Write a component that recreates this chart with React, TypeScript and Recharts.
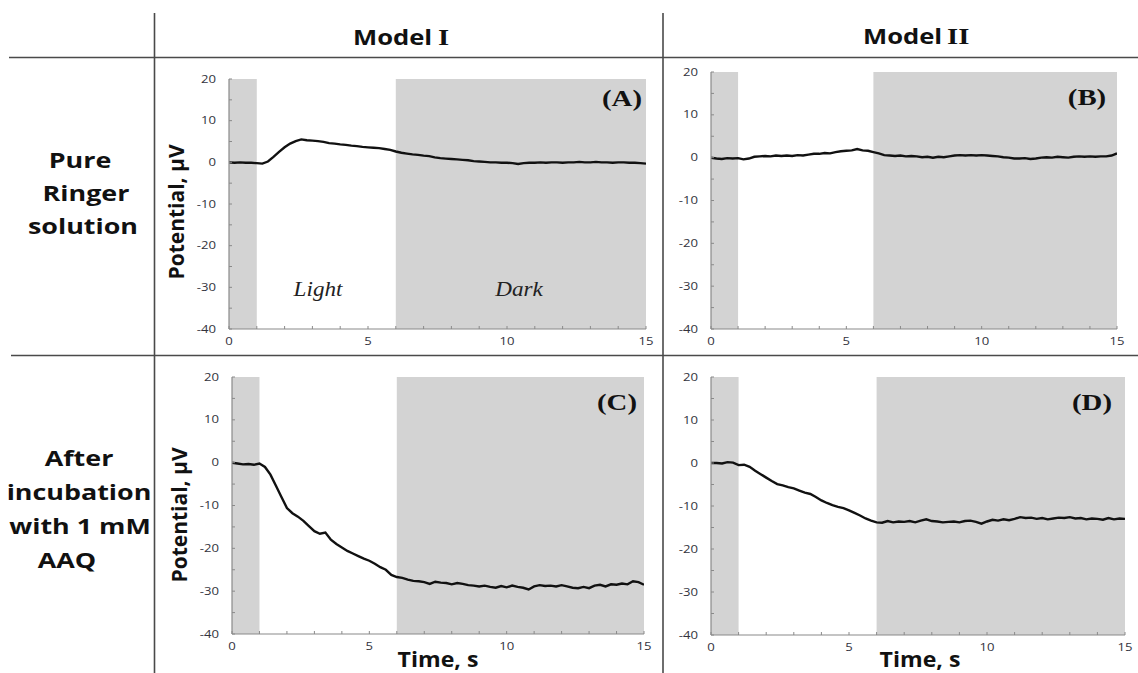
import React from 'react';
import { LineChart, Line, XAxis, YAxis, ReferenceArea } from 'recharts';

// ---------- data ----------
const timeS = [
  0.0, 0.2, 0.4, 0.6, 0.8, 1.0, 1.2, 1.4, 1.6, 1.8,
  2.0, 2.2, 2.4, 2.6, 2.8, 3.0, 3.2, 3.4, 3.6, 3.8,
  4.0, 4.2, 4.4, 4.6, 4.8, 5.0, 5.2, 5.4, 5.6, 5.8,
  6.0, 6.2, 6.4, 6.6, 6.8, 7.0, 7.2, 7.4, 7.6, 7.8,
  8.0, 8.2, 8.4, 8.6, 8.8, 9.0, 9.2, 9.4, 9.6, 9.8,
  10.0, 10.2, 10.4, 10.6, 10.8, 11.0, 11.2, 11.4, 11.6, 11.8,
  12.0, 12.2, 12.4, 12.6, 12.8, 13.0, 13.2, 13.4, 13.6, 13.8,
  14.0, 14.2, 14.4, 14.6, 14.8, 15.0,
];

// (A) Model I, pure Ringer solution
const seriesA = [
  0.0, -0.1, 0.0, -0.1, -0.1, -0.2, -0.3, 0.2, 1.3, 2.5,
  3.6, 4.5, 5.1, 5.5, 5.3, 5.2, 5.1, 4.9, 4.6, 4.5,
  4.3, 4.2, 4.0, 3.9, 3.7, 3.6, 3.5, 3.4, 3.2, 3.0,
  2.6, 2.3, 2.1, 1.9, 1.8, 1.6, 1.5, 1.2, 1.0, 0.9,
  0.8, 0.7, 0.6, 0.5, 0.3, 0.2, 0.1, 0.0, 0.0, -0.1,
  -0.1, -0.2, -0.4, -0.2, -0.1, -0.1, 0.0, -0.1, 0.0, 0.0,
  -0.1, 0.0, 0.0, 0.1, 0.0, 0.0, 0.1, 0.0, 0.0, -0.1,
  0.0, 0.0, -0.1, -0.1, -0.2, -0.3,
];

// (B) Model II, pure Ringer solution
const seriesB = [
  0.0, -0.2, -0.3, -0.1, -0.2, -0.1, -0.4, -0.2, 0.2, 0.3,
  0.4, 0.3, 0.5, 0.4, 0.5, 0.4, 0.6, 0.5, 0.7, 0.9,
  0.9, 1.1, 1.0, 1.3, 1.5, 1.6, 1.7, 2.0, 1.7, 1.6,
  1.3, 1.0, 0.6, 0.5, 0.4, 0.5, 0.3, 0.4, 0.3, 0.1,
  0.2, 0.0, 0.2, 0.1, 0.3, 0.5, 0.6, 0.5, 0.6, 0.5,
  0.6, 0.5, 0.4, 0.3, 0.1, 0.0, -0.2, -0.2, -0.1, -0.3,
  -0.2, 0.0, 0.1, 0.0, 0.2, 0.1, 0.0, 0.2, 0.3, 0.2,
  0.3, 0.2, 0.3, 0.3, 0.5, 1.0,
];

// (C) Model I, after incubation with 1 mM AAQ
const seriesC = [
  0.0, -0.2, -0.4, -0.3, -0.5, -0.2, -1.0, -2.8, -5.4, -8.0,
  -10.6, -11.8, -12.6, -13.6, -14.8, -16.0, -16.6, -16.3, -18.0, -19.0,
  -19.8, -20.6, -21.2, -21.8, -22.4, -22.9, -23.6, -24.4, -25.0, -26.2,
  -26.7, -26.9, -27.3, -27.6, -27.7, -27.9, -28.3, -27.8, -28.0, -28.1,
  -28.4, -28.1, -28.3, -28.6, -28.7, -28.9, -28.7, -29.0, -29.2, -28.8,
  -29.1, -28.7, -29.0, -29.2, -29.6, -28.9, -28.6, -28.8, -28.7, -28.9,
  -28.6, -28.9, -29.2, -29.3, -29.0, -29.3, -28.7, -28.5, -28.9, -28.4,
  -28.5, -28.2, -28.4, -27.7, -27.9, -28.5,
];

// (D) Model II, after incubation with 1 mM AAQ
const seriesD = [
  0.0, 0.0, -0.1, 0.2, 0.1, -0.5, -0.4, -0.9, -1.8, -2.6,
  -3.4, -4.2, -4.9, -5.2, -5.6, -5.9, -6.4, -6.9, -7.2, -7.9,
  -8.7, -9.3, -9.8, -10.2, -10.5, -11.0, -11.6, -12.2, -12.9, -13.4,
  -13.8, -13.9, -13.5, -13.8, -13.6, -13.7, -13.5, -13.8, -13.4, -13.1,
  -13.5, -13.6, -13.8, -13.7, -13.6, -13.8, -13.5, -13.4, -13.7, -14.1,
  -13.6, -13.2, -13.4, -13.1, -13.3, -13.0, -12.6, -12.8, -12.7, -13.0,
  -12.8, -13.1, -12.9, -12.7, -12.8, -12.6, -12.9, -12.8, -13.1, -12.9,
  -13.0, -13.2, -12.8, -13.1, -12.9, -13.0,
];

const xTicks = [0, 1, 2, 3, 4, 5, 6, 7, 8, 9, 10, 11, 12, 13, 14, 15];
const xLabelTicks = [0, 5, 10, 15];
const yTicks = [-40, -35, -30, -25, -20, -15, -10, -5, 0, 5, 10, 15, 20];
const yLabelTicks = [-40, -30, -20, -10, 0, 10, 20];
const darkPeriods = [[0, 1], [6, 15]];

const columnHeaders = ['I', 'II'];
const rowLabels = [
  ['Pure', 'Ringer', 'solution'],
  ['After', 'incubation', 'with 1 mM', 'AAQ'],
];
const panelLetters = ['(A)', '(B)', '(C)', '(D)'];
const yTitle = 'Potential, \u03bcV';
const xTitle = 'Time, s';

// ---------- helpers ----------
const SANS = '"Open Sans", "DejaVu Sans", sans-serif';
const SERIF = '"Liberation Serif", "Times New Roman", serif';
const TICK_COLOR = '#33333d';
const AXIS_COLOR = '#8a8a8a';

function SText({ x, y, sx = 1, size, family = SANS, weight = 700, anchor = 'middle', italic = false, fill = '#111', children }: any) {
  return (
    <text
      transform={`translate(${x},${y}) scale(${sx},1)`}
      x={0}
      y={0}
      fontSize={size}
      fontFamily={family}
      fontWeight={weight}
      fontStyle={italic ? 'italic' : 'normal'}
      textAnchor={anchor}
      fill={fill}
    >
      {children}
    </text>
  );
}

function XTick(props: any) {
  const { x, y, payload } = props;
  const v = payload.value;
  const showLabel = xLabelTicks.includes(v);
  return (
    <g>
      <line x1={x} x2={x} y1={y} y2={y - 3} stroke={AXIS_COLOR} strokeWidth={1} />
      {showLabel && (
        <text
          transform={`translate(${x},${y + 16}) scale(1.25,1)`}
          textAnchor="middle"
          fontSize={10.5}
          fontFamily={SANS}
          fill={TICK_COLOR}
        >
          {v}
        </text>
      )}
    </g>
  );
}

function YTick(props: any) {
  const { x, y, payload } = props;
  const v = payload.value;
  const showLabel = yLabelTicks.includes(v);
  return (
    <g>
      <line x1={x} x2={x + 3} y1={y} y2={y} stroke={AXIS_COLOR} strokeWidth={1} />
      {showLabel && (
        <text
          transform={`translate(${x - 13},${y + 3.5}) scale(1.25,1)`}
          textAnchor="end"
          fontSize={10.5}
          fontFamily={SANS}
          fill={TICK_COLOR}
        >
          {v}
        </text>
      )}
    </g>
  );
}

type Geo = { left: number; top: number; right: number; bottom: number };

function Panel({ geo, series }: { geo: Geo; series: number[] }) {
  const w = geo.right - geo.left;
  const h = geo.bottom - geo.top;
  const rows = timeS.map((t, i) => ({ t, v: series[i] }));
  return (
    <div style={{ position: 'absolute', left: geo.left - 40, top: geo.top - 10 }}>
      <LineChart width={w + 60} height={h + 35} data={rows} margin={{ top: 10, right: 20, left: 0, bottom: 0 }}>
        {darkPeriods.map(([a, b], i) => (
          <ReferenceArea key={i} x1={a} x2={b} y1={-40} y2={20} fill="#d3d3d3" fillOpacity={1} stroke="none" ifOverflow="hidden" />
        ))}
        <XAxis
          type="number"
          dataKey="t"
          domain={[0, 15]}
          ticks={xTicks}
          interval={0}
          height={25}
          tickLine={false}
          tickSize={0}
          tickMargin={0}
          tick={<XTick />}
          stroke={AXIS_COLOR}
          strokeWidth={1.2}
          allowDataOverflow
        />
        <YAxis
          type="number"
          domain={[-40, 20]}
          ticks={yTicks}
          interval={0}
          width={40}
          tickLine={false}
          tickSize={0}
          tickMargin={0}
          tick={<YTick />}
          stroke={AXIS_COLOR}
          strokeWidth={1.2}
          allowDataOverflow
        />
        <Line type="linear" dataKey="v" stroke="#111" strokeWidth={2.4} dot={false} isAnimationActive={false} />
      </LineChart>
    </div>
  );
}

const geoA: Geo = { left: 229, top: 79, right: 646, bottom: 329 };
const geoB: Geo = { left: 711, top: 72, right: 1117, bottom: 329 };
const geoC: Geo = { left: 232, top: 377, right: 644, bottom: 634 };
const geoD: Geo = { left: 711, top: 377, right: 1125, bottom: 635 };

export default function App() {
  const letterPos = [
    [622, 106],
    [1087, 105],
    [617, 410],
    [1092, 410],
  ];
  const rowX = [
    [80, 86, 83],
    [79, 79, 80, 67],
  ];
  const rowY = [
    [168, 201, 234],
    [466, 500, 534, 568],
  ];
  return (
    <div style={{ position: 'absolute', left: 0, top: 0, width: 1138, height: 673, background: '#fff', overflow: 'hidden' }}>
      <Panel geo={geoA} series={seriesA} />
      <Panel geo={geoB} series={seriesB} />
      <Panel geo={geoC} series={seriesC} />
      <Panel geo={geoD} series={seriesD} />
      <svg width={1138} height={673} style={{ position: 'absolute', left: 0, top: 0, pointerEvents: 'none' }}>
        {/* table grid */}
        <line x1={9} x2={1138} y1={57.5} y2={57.5} stroke="#4a4a4a" strokeWidth={1.6} />
        <line x1={11} x2={1138} y1={355.5} y2={355.5} stroke="#4a4a4a" strokeWidth={1.6} />
        <line x1={154.5} x2={154.5} y1={13} y2={673} stroke="#4a4a4a" strokeWidth={1.6} />
        <line x1={663} x2={663} y1={13} y2={673} stroke="#4a4a4a" strokeWidth={1.6} />

        {/* column headers */}
        <SText x={353} y={45} sx={1.22} size={21} anchor="start">Model</SText>
        <SText x={438} y={45} sx={1.25} size={23} family={SERIF} anchor="start">{columnHeaders[0]}</SText>
        <SText x={863} y={44} sx={1.22} size={21} anchor="start">Model</SText>
        <SText x={947} y={44} sx={1.25} size={23} family={SERIF} anchor="start">{columnHeaders[1]}</SText>

        {/* row labels */}
        {rowLabels.map((lines, r) =>
          lines.map((s, i) => (
            <SText key={`${r}-${i}`} x={rowX[r][i]} y={rowY[r][i]} sx={1.25} size={21.5}>{s}</SText>
          ))
        )}

        {/* panel letters */}
        {panelLetters.map((s, i) => (
          <SText key={s} x={letterPos[i][0]} y={letterPos[i][1]} sx={1.2} size={24} family={SERIF}>{s}</SText>
        ))}

        {/* light / dark annotations */}
        <SText x={318} y={296} sx={1.1} size={21} family={SERIF} weight={400} italic fill="#222">Light</SText>
        <SText x={519} y={296} sx={1.1} size={21} family={SERIF} weight={400} italic fill="#222">Dark</SText>

        {/* y-axis titles */}
        <text transform="translate(184,212) rotate(-90)" textAnchor="middle" fontSize={21} fontFamily={SANS} fontWeight={700} fill="#111">{yTitle}</text>
        <text transform="translate(187,515) rotate(-90)" textAnchor="middle" fontSize={21} fontFamily={SANS} fontWeight={700} fill="#111">{yTitle}</text>

        {/* x-axis titles */}
        <SText x={438} y={667} sx={1.1} size={21}>{xTitle}</SText>
        <SText x={920} y={667} sx={1.1} size={21}>{xTitle}</SText>
      </svg>
    </div>
  );
}
